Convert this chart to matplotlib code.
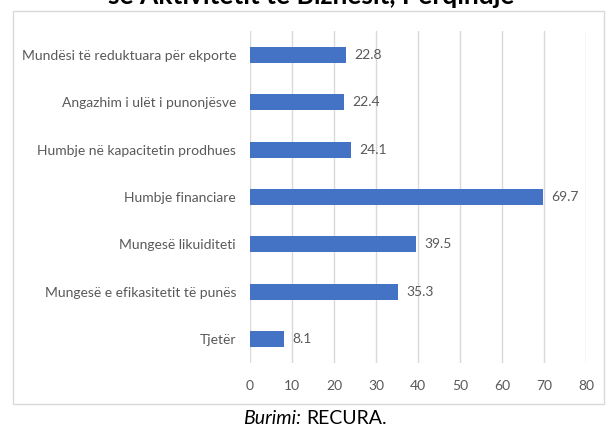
import matplotlib.pyplot as plt
from matplotlib.patches import Rectangle

categories = ['Mundësi të reduktuara për ekporte',
              'Angazhim i ulët i punonjësve',
              'Humbje në kapacitetin prodhues',
              'Humbje financiare',
              'Mungesë likuiditeti',
              'Mungesë e efikasitetit të punës',
              'Tjetër']
values = [22.8, 22.4, 24.1, 69.7, 39.5, 35.3, 8.1]
xticks = [0, 10, 20, 30, 40, 50, 60, 70, 80]

plt.rcParams['font.family'] = ['Lato', 'DejaVu Sans']
grey = '#595959'

fig = plt.figure(figsize=(6.16, 4.29), dpi=100)
ax = fig.add_axes([250/616, 1-363/429, 336/616, 332/429])

ypos = list(range(len(categories)))
ax.barh(ypos, values, height=0.34, color='#4472C4', zorder=3)
ax.set_ylim(len(categories)-0.5, -0.5)
ax.set_xlim(0, 80)
ax.set_xticks(xticks)
ax.set_yticks(ypos)
ax.set_yticklabels(categories, fontsize=10, color=grey)
ax.tick_params(axis='x', labelsize=10, colors=grey, length=0, pad=12)
ax.tick_params(axis='y', length=0, pad=10)
ax.grid(axis='x', color='#D9D9D9', linewidth=1, zorder=0)
for s in ax.spines.values():
    s.set_visible(False)

for y, v in zip(ypos, values):
    ax.text(v + 2.0, y, f'{v:.1f}', va='center', ha='left', fontsize=10, color=grey)

# chart border
fig.patches.append(Rectangle((13/616, 1-404/429), 591/616, 393/429,
                             transform=fig.transFigure, fill=False,
                             edgecolor='#D9D9D9', linewidth=1))

fig.text(0.505, 1-4/429, 'së Aktivitetit të Biznesit, Përqindje', ha='center',
         va='baseline', fontsize=19, fontweight='bold', color='black')

fig.text(243/616, 1-418/429, 'Burimi:', ha='left', va='center', fontsize=14,
         style='italic', color='black')
fig.text(306/616, 1-418/429, 'RECURA.', ha='left', va='center', fontsize=14, color='black')

fig.savefig('out.png', dpi=100)
